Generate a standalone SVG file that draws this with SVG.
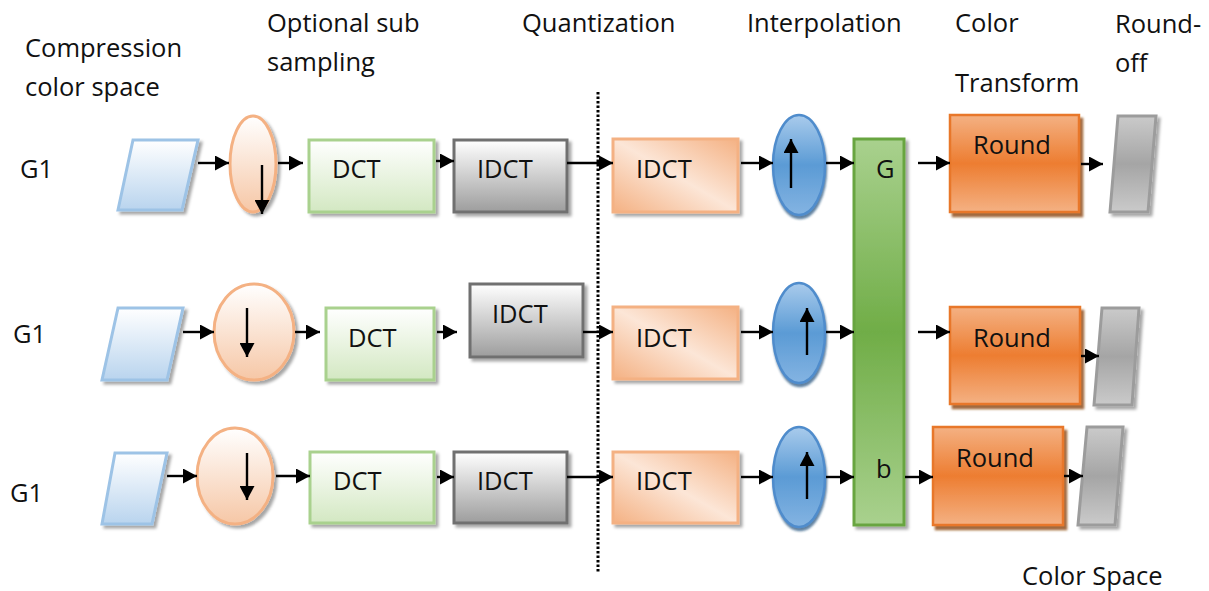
<svg xmlns="http://www.w3.org/2000/svg" width="1209" height="591" viewBox="0 0 1209 591">
<style>
text{font-family:"Open Sans","Liberation Sans",sans-serif;font-size:25.5px;fill:#111}
.conn line{stroke:#000;stroke-width:2.4;marker-end:url(#ah)}
.inner{stroke:#000;stroke-width:2.4;marker-end:url(#ah2)}
.para{fill:url(#gPara);stroke:#9dc3e6;stroke-width:3;filter:url(#sh)}
.peach{fill:url(#gPeach);stroke:#f4b183;stroke-width:3;filter:url(#sh)}
.dct{fill:url(#gDct);stroke:#a9d18e;stroke-width:3;filter:url(#sh)}
.idg{fill:url(#gGrey);stroke:#6f6f6f;stroke-width:3;filter:url(#sh)}
.ido{fill:url(#gOr);stroke:#f4b183;stroke-width:3;filter:url(#sh)}
.blue{fill:url(#gBlue);stroke:#4f8ccc;stroke-width:2.5;filter:url(#shb)}
.bar{fill:url(#gBar);stroke:#68a540;stroke-width:3;filter:url(#sh)}
.round{fill:url(#gRound);stroke:#e8772a;stroke-width:2.5;filter:url(#shd)}
.gpara{fill:url(#gGp);stroke:#9c9c9c;stroke-width:3;filter:url(#sh)}
</style>
<defs>
<marker id="ah" markerUnits="userSpaceOnUse" markerWidth="14" markerHeight="15" refX="14" refY="7.5" orient="auto"><path d="M0,0 L14,7.5 L0,15 z" fill="#000"/></marker>
<marker id="ah2" markerUnits="userSpaceOnUse" markerWidth="14" markerHeight="15" refX="14" refY="7.5" orient="auto"><path d="M0,0 L14,7.5 L0,15 z" fill="#000"/></marker>
<filter id="sh" x="-20%" y="-20%" width="150%" height="150%"><feDropShadow dx="3" dy="3" stdDeviation="1.5" flood-color="#000" flood-opacity="0.35"/></filter>
<filter id="shb" x="-20%" y="-20%" width="150%" height="150%"><feDropShadow dx="1" dy="3" stdDeviation="1" flood-color="#1f4e79" flood-opacity="0.7"/></filter>
<filter id="shd" x="-20%" y="-20%" width="150%" height="150%"><feDropShadow dx="3" dy="4" stdDeviation="1" flood-color="#8a4410" flood-opacity="0.8"/></filter>
<linearGradient id="gPara" x1="0" y1="0" x2="0" y2="1"><stop offset="0" stop-color="#ffffff"/><stop offset="1" stop-color="#b9d4ee"/></linearGradient>
<linearGradient id="gPeach" x1="0" y1="0" x2="0" y2="1"><stop offset="0" stop-color="#ffffff"/><stop offset="1" stop-color="#f6c7a6"/></linearGradient>
<linearGradient id="gDct" x1="0" y1="0" x2="0" y2="1"><stop offset="0" stop-color="#ffffff"/><stop offset="1" stop-color="#d3e8c2"/></linearGradient>
<linearGradient id="gGrey" x1="0" y1="0" x2="0" y2="1"><stop offset="0" stop-color="#ffffff"/><stop offset="1" stop-color="#9d9d9d"/></linearGradient>
<linearGradient id="gOr" x1="0" y1="1" x2="1" y2="0"><stop offset="0" stop-color="#f4b183"/><stop offset="0.5" stop-color="#fce6d7"/><stop offset="1" stop-color="#f4b183"/></linearGradient>
<linearGradient id="gBlue" x1="0" y1="0" x2="0" y2="1"><stop offset="0" stop-color="#a9cbec"/><stop offset="0.5" stop-color="#5b9bd5"/><stop offset="1" stop-color="#84b4e2"/></linearGradient>
<linearGradient id="gBar" x1="0" y1="0" x2="0" y2="1"><stop offset="0" stop-color="#a9d18e"/><stop offset="0.5" stop-color="#70ad47"/><stop offset="1" stop-color="#a9d18e"/></linearGradient>
<linearGradient id="gRound" x1="0" y1="0" x2="0" y2="1"><stop offset="0" stop-color="#f4b183"/><stop offset="0.5" stop-color="#ed7d31"/><stop offset="1" stop-color="#f4b183"/></linearGradient>
<linearGradient id="gGp" x1="0" y1="0" x2="0" y2="1"><stop offset="0" stop-color="#cacaca"/><stop offset="0.5" stop-color="#a5a5a5"/><stop offset="1" stop-color="#cacaca"/></linearGradient>
</defs>
<rect width="1209" height="591" fill="#fff"/>

<g id="headers">
<text x="25" y="57">Compression</text>
<text x="25" y="96">color space</text>
<text x="267" y="32">Optional sub</text>
<text x="267" y="71">sampling</text>
<text x="522" y="32">Quantization</text>
<text x="747" y="32">Interpolation</text>
<text x="955" y="32">Color</text>
<text x="955" y="92">Transform</text>
<text x="1115" y="33">Round-</text>
<text x="1115" y="72">off</text>
<text x="1022" y="585">Color Space</text>
<text x="20" y="178">G1</text>
<text x="13" y="343">G1</text>
<text x="10" y="502">G1</text>
</g>

<line id="divider" x1="598" y1="92" x2="598" y2="572" stroke="#000" stroke-width="3" stroke-dasharray="2.5,2"/>

<!-- Row 1 -->
<g id="r1-src"><polygon class="para" points="133,140 198,140 182,210 118,210"/></g>
<g id="r1-sub"><ellipse class="peach" cx="253" cy="164" rx="23" ry="48"/><line class="inner" x1="262" y1="165" x2="262" y2="214"/></g>
<g id="r1-dct"><rect class="dct" x="309" y="140" width="125" height="72"/><text x="332" y="178">DCT</text></g>
<g id="r1-idct"><rect class="idg" x="454" y="140" width="113" height="72"/><text x="477" y="178">IDCT</text></g>
<g id="r1-idct2"><rect class="ido" x="613" y="139" width="125" height="73"/><text x="636" y="178">IDCT</text></g>
<g id="r1-interp"><ellipse class="blue" cx="799" cy="165" rx="26" ry="50"/><line class="inner" x1="791" y1="188" x2="791" y2="139"/></g>
<g id="r1-round"><rect class="round" x="950" y="115" width="129" height="97"/><text x="973" y="154">Round</text></g>
<g id="r1-out"><polygon class="gpara" points="1118,116 1156,116 1148,212 1110,212"/></g>

<!-- Color transform bar -->
<g id="bar"><rect class="bar" x="854" y="139" width="50" height="386"/><text x="876" y="178">G</text><text x="876" y="478">b</text></g>

<!-- Row 2 -->
<g id="r2-src"><polygon class="para" points="118,308 183,308 167,380 102,380"/></g>
<g id="r2-sub"><ellipse class="peach" cx="254" cy="332" rx="40" ry="48"/><line class="inner" x1="247" y1="308" x2="247" y2="357"/></g>
<g id="r2-dct"><rect class="dct" x="326" y="308" width="108" height="72"/><text x="348" y="347">DCT</text></g>
<g id="r2-idct"><rect class="idg" x="470" y="284" width="113" height="73"/><text x="492" y="323">IDCT</text></g>
<g id="r2-idct2"><rect class="ido" x="613" y="307" width="125" height="72"/><text x="636" y="347">IDCT</text></g>
<g id="r2-interp"><ellipse class="blue" cx="799" cy="333" rx="26" ry="50"/><line class="inner" x1="807" y1="355" x2="807" y2="308"/></g>
<g id="r2-round"><rect class="round" x="950" y="307" width="130" height="97"/><text x="973" y="347">Round</text></g>
<g id="r2-out"><polygon class="gpara" points="1102,308 1139,308 1132,405 1094,405"/></g>

<!-- Row 3 -->
<g id="r3-src"><polygon class="para" points="115,453 167,453 152,524 102,524"/></g>
<g id="r3-sub"><ellipse class="peach" cx="235" cy="476" rx="38" ry="48"/><line class="inner" x1="247" y1="453" x2="247" y2="500"/></g>
<g id="r3-dct"><rect class="dct" x="310" y="452" width="124" height="71"/><text x="333" y="490">DCT</text></g>
<g id="r3-idct"><rect class="idg" x="454" y="452" width="113" height="71"/><text x="477" y="490">IDCT</text></g>
<g id="r3-idct2"><rect class="ido" x="613" y="452" width="125" height="71"/><text x="636" y="490">IDCT</text></g>
<g id="r3-interp"><ellipse class="blue" cx="799" cy="477" rx="26" ry="50"/><line class="inner" x1="807" y1="499" x2="807" y2="452"/></g>
<g id="r3-round"><rect class="round" x="933" y="427" width="130" height="98"/><text x="956" y="467">Round</text></g>
<g id="r3-out"><polygon class="gpara" points="1087,427 1123,427 1115,525 1078,525"/></g>

<g id="connectors" class="conn">
<line x1="198" y1="163" x2="229" y2="163"/>
<line x1="278" y1="163" x2="303" y2="163"/>
<line x1="436" y1="161" x2="454" y2="161"/>
<line x1="567" y1="163" x2="613" y2="163"/>
<line x1="741" y1="163" x2="773" y2="163"/>
<line x1="826" y1="163" x2="854" y2="163"/>
<line x1="918" y1="163" x2="950" y2="163"/>
<line x1="1081" y1="164" x2="1103" y2="164"/>

<line x1="183" y1="332" x2="214" y2="332"/>
<line x1="295" y1="332" x2="320" y2="332"/>
<line x1="437" y1="332" x2="457" y2="332"/>
<line x1="583" y1="332" x2="613" y2="332"/>
<line x1="741" y1="332" x2="773" y2="332"/>
<line x1="826" y1="332" x2="854" y2="332"/>
<line x1="918" y1="332" x2="950" y2="332"/>
<line x1="1081" y1="356" x2="1099" y2="356"/>

<line x1="167" y1="476" x2="197" y2="476"/>
<line x1="276" y1="476" x2="310" y2="476"/>
<line x1="437" y1="477" x2="454" y2="477"/>
<line x1="567" y1="477" x2="613" y2="477"/>
<line x1="741" y1="477" x2="773" y2="477"/>
<line x1="826" y1="477" x2="854" y2="477"/>
<line x1="905" y1="477" x2="933" y2="477"/>
<line x1="1064" y1="476" x2="1083" y2="476"/>
</g>
</svg>
